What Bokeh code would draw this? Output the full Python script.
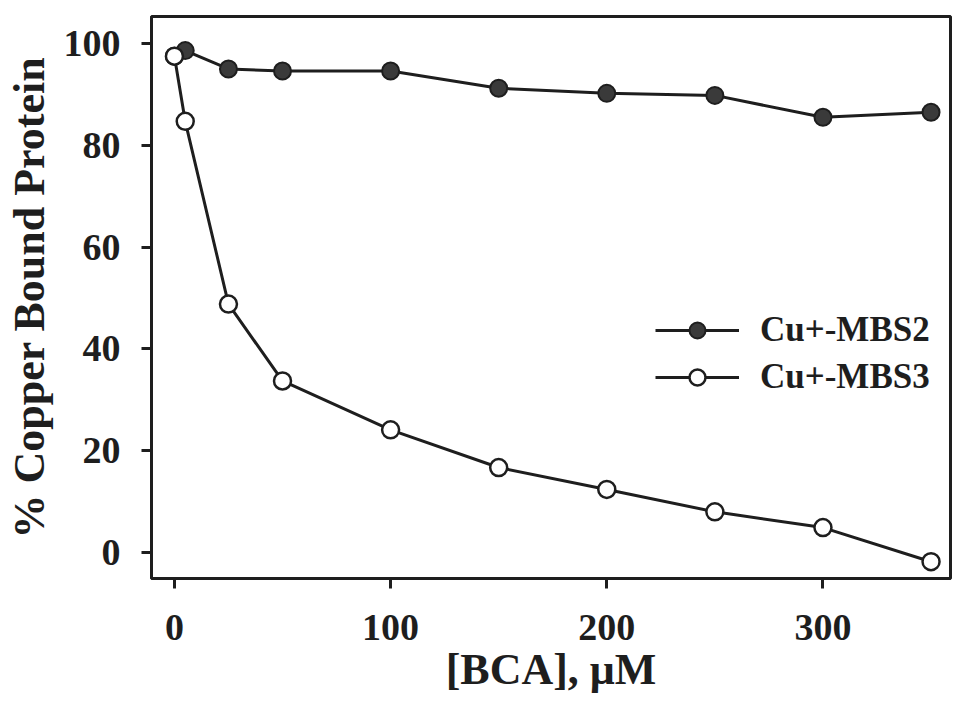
from bokeh.plotting import figure
from bokeh.models import Range1d, FixedTicker, Legend, LegendItem
from bokeh.embed import file_html
from bokeh.resources import INLINE

# Data
bca = [0, 5, 25, 50, 100, 150, 200, 250, 300, 350]
mbs2 = [97.5, 98.6, 95.0, 94.6, 94.6, 91.2, 90.2, 89.8, 85.5, 86.5]
mbs3 = [97.5, 84.7, 48.8, 33.7, 24.1, 16.7, 12.4, 8.0, 4.9, -1.8]
x_ticks = [0, 100, 200, 300]
y_ticks = [0, 20, 40, 60, 80, 100]

FONT = "Liberation Serif"
INK = "#1e1e1e"

p = figure(width=953, height=715, output_backend="svg", toolbar_location=None,
           x_range=Range1d(-10.6, 359), y_range=Range1d(-5.1, 105.3),
           min_border_left=151, min_border_right=3, min_border_top=16, min_border_bottom=137)

p.grid.visible = False
p.outline_line_color = INK
p.outline_line_width = 3
p.background_fill_color = "white"
p.border_fill_color = "white"

for ax in (p.xaxis[0], p.yaxis[0]):
    ax.axis_line_width = 3
    ax.axis_line_color = INK
    ax.major_tick_line_width = 3
    ax.major_tick_line_color = INK
    ax.major_tick_out = 10
    ax.major_tick_in = 0
    ax.minor_tick_line_color = None
    ax.major_label_text_font = FONT
    ax.major_label_text_font_style = "bold"
    ax.major_label_text_font_size = "38px"
    ax.major_label_text_color = INK
    ax.axis_label_text_font = FONT
    ax.axis_label_text_font_style = "bold"
    ax.axis_label_text_font_size = "44px"
    ax.axis_label_text_color = INK

p.xaxis.ticker = FixedTicker(ticks=x_ticks)
p.yaxis.ticker = FixedTicker(ticks=y_ticks)
p.xaxis.axis_label = "[BCA], μM"
p.yaxis.axis_label = "% Copper Bound Protein"
p.xaxis.major_label_standoff = 26
p.yaxis.major_label_standoff = 21
p.xaxis.axis_label_standoff = 2
p.yaxis.axis_label_standoff = 7

l2 = p.line(bca, mbs2, line_color=INK, line_width=3)
s2 = p.scatter(bca, mbs2, size=17, fill_color="#3a3a3a", line_color=INK, line_width=2)
l3 = p.line(bca, mbs3, line_color=INK, line_width=3)
s3 = p.scatter(bca, mbs3, size=17, fill_color="white", line_color=INK, line_width=2.5)

legend = Legend(items=[LegendItem(label="Cu+-MBS2", renderers=[l2, s2]),
                       LegendItem(label="Cu+-MBS3", renderers=[l3, s3])],
                location=(504, 181), padding=0, margin=0, spacing=7,
                glyph_width=84, glyph_height=40, label_height=40, label_standoff=21,
                border_line_color=None, background_fill_alpha=0,
                label_text_font=FONT, label_text_font_style="bold",
                label_text_font_size="35px", label_text_color=INK)
p.add_layout(legend)

open("out.html", "w").write(file_html(p, INLINE))
